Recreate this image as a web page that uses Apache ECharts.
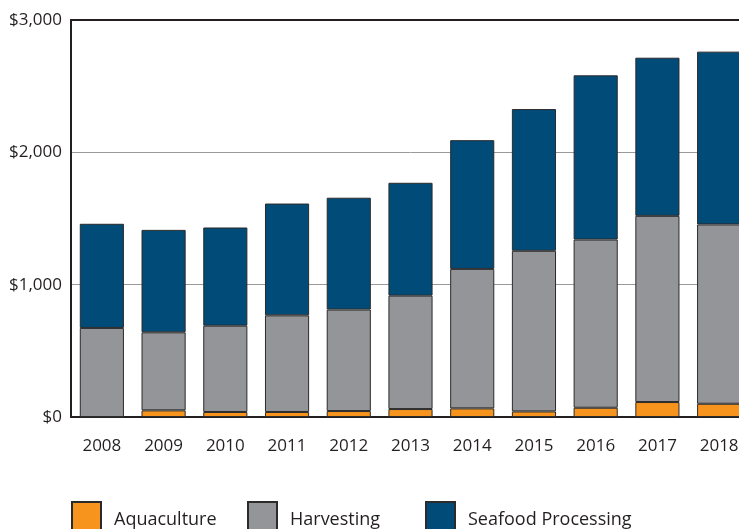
<!DOCTYPE html>
<html>
<head>
<meta charset="utf-8">
<script src="https://cdn.jsdelivr.net/npm/echarts@6/dist/echarts.min.js"></script>
<style>
html,body{margin:0;padding:0;background:#fff;overflow:hidden;width:739px;height:529px;}
#chart{width:750px;height:529px;}
</style>
</head>
<body>
<div id="chart"></div>
<script>
const years = ['2008','2009','2010','2011','2012','2013','2014','2015','2016','2017','2018'];
const aquaculture = [0, 50, 38, 38, 45, 60, 65, 42, 70, 113, 100];
const harvesting = [673, 590, 652, 730, 767, 857, 1054, 1214, 1271, 1407, 1355];
const seafoodProcessing = [787, 774, 742, 845, 845, 853, 973, 1071, 1241, 1195, 1306];
const yTicks = [0, 1000, 2000, 3000];

const font = '"Open Sans", "Noto Sans", sans-serif';
const textColor = '#231f20';

const chart = echarts.init(document.getElementById('chart'));

function barSeries(name, data, color) {
  return {
    name: name,
    type: 'bar',
    stack: 'total',
    data: data,
    barCategoryGap: '28.5%',
    itemStyle: { color: color, borderColor: '#2b2b2b', borderWidth: 1 },
    emphasis: { disabled: true },
    animation: false
  };
}

function legendFor(name, left) {
  return {
    left: left,
    top: 501,
    padding: 0,
    data: [name],
    icon: 'rect',
    itemWidth: 29,
    itemHeight: 36,
    itemGap: 0,
    textStyle: { fontFamily: font, fontSize: 18, color: textColor, padding: [0, 0, 0, 8] },
    selectedMode: false
  };
}

chart.setOption({
  backgroundColor: '#ffffff',
  animation: false,
  grid: { left: 71, top: 20, right: 0, bottom: 112, containLabel: false },
  legend: [
    legendFor('Aquaculture', 71),
    legendFor('Harvesting', 247),
    legendFor('Seafood Processing', 425)
  ],
  xAxis: [{
    type: 'category',
    data: years,
    position: 'bottom',
    axisLine: { show: true, lineStyle: { color: '#231f20', width: 2 } },
    axisTick: { show: false },
    axisLabel: { fontFamily: font, fontSize: 17, color: textColor, margin: 21 }
  }, {
    type: 'category',
    data: years,
    position: 'top',
    axisLine: { show: true, lineStyle: { color: '#231f20', width: 2 } },
    axisTick: { show: false },
    axisLabel: { show: false }
  }],
  yAxis: {
    type: 'value',
    min: yTicks[0],
    max: yTicks[yTicks.length - 1],
    interval: 1000,
    axisLine: { show: true, lineStyle: { color: '#231f20', width: 2 } },
    axisTick: { show: false },
    splitLine: { show: true, lineStyle: { color: '#9a9a9a', width: 1 } },
    axisLabel: {
      fontFamily: font, fontSize: 17, color: textColor, margin: 9,
      formatter: v => '$' + v.toLocaleString('en-US')
    }
  },
  series: [
    barSeries('Aquaculture', aquaculture, '#f7941d'),
    barSeries('Harvesting', harvesting, '#939598'),
    barSeries('Seafood Processing', seafoodProcessing, '#004b78')
  ]
});
</script>
</body>
</html>
